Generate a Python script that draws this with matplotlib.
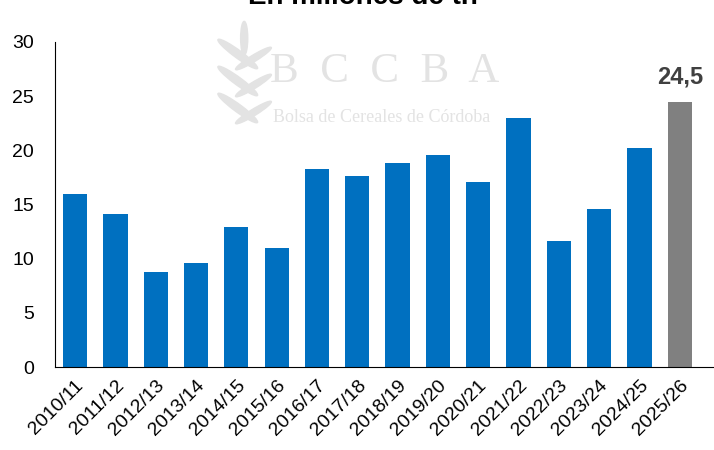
import numpy as np
from matplotlib import pyplot as plt
from matplotlib.patches import Ellipse

campaigns = ["2010/11", "2011/12", "2012/13", "2013/14", "2014/15", "2015/16",
             "2016/17", "2017/18", "2018/19", "2019/20", "2020/21", "2021/22",
             "2022/23", "2023/24", "2024/25", "2025/26"]
production = [16.0, 14.1, 8.8, 9.6, 12.9, 11.0, 18.3, 17.6, 18.8, 19.6,
              17.1, 23.0, 11.6, 14.6, 20.2, 24.5]
estimate_label = "24,5"

plt.rcParams['font.family'] = ['Liberation Sans', 'DejaVu Sans']

fig = plt.figure(figsize=(7.14, 4.5), dpi=100)
ax = fig.add_axes([0.077, 0.1844, 0.923, 0.7223])

# watermark: wheat ear + letters
wm = "#e3e3e3"
for yy in [0.76, 0.82, 0.88]:
    fig.patches.append(Ellipse((0.333, yy), 0.014, 0.085, angle=40,
                               transform=fig.transFigure, color=wm, zorder=0))
    fig.patches.append(Ellipse((0.355, yy - 0.01), 0.012, 0.07, angle=-45,
                               transform=fig.transFigure, color=wm, zorder=0))
fig.patches.append(Ellipse((0.342, 0.915), 0.010, 0.075,
                           transform=fig.transFigure, color=wm, zorder=0))
fig.text(0.539, 0.84, "B  C  C  B  A", ha='center', va='center', fontsize=31,
         family='Liberation Serif', color=wm, zorder=0)
fig.text(0.535, 0.74, "Bolsa de Cereales de Córdoba", ha='center', va='center',
         fontsize=13, family='Liberation Serif', color=wm, zorder=0)

fig.text(0.508, 0.991, "En millones de tn", ha='center', va='baseline',
         fontsize=20, fontweight='bold')

colors = ["#0070C0"] * (len(campaigns) - 1) + ["#808080"]
x = np.arange(len(campaigns))
ax.bar(x, production, width=0.6, color=colors, zorder=2)
ax.text(x[-1], production[-1] + 1.2, estimate_label, ha='center', va='bottom',
        fontsize=17, fontweight='bold', color="#404040")

ax.set_xlim(-0.5, 15.85)
ax.set_ylim(0, 30)
ax.set_yticks(range(0, 31, 5))
ax.set_xticks(x)
ax.set_xticklabels(campaigns, rotation=45, ha='right', rotation_mode='anchor')
ax.tick_params(axis='both', length=0, labelsize=14)
ax.tick_params(axis='x', pad=7)
ax.tick_params(axis='y', pad=15)
ax.patch.set_alpha(0)
for s in ['top', 'right']:
    ax.spines[s].set_visible(False)

fig.savefig("out.png", dpi=100)
